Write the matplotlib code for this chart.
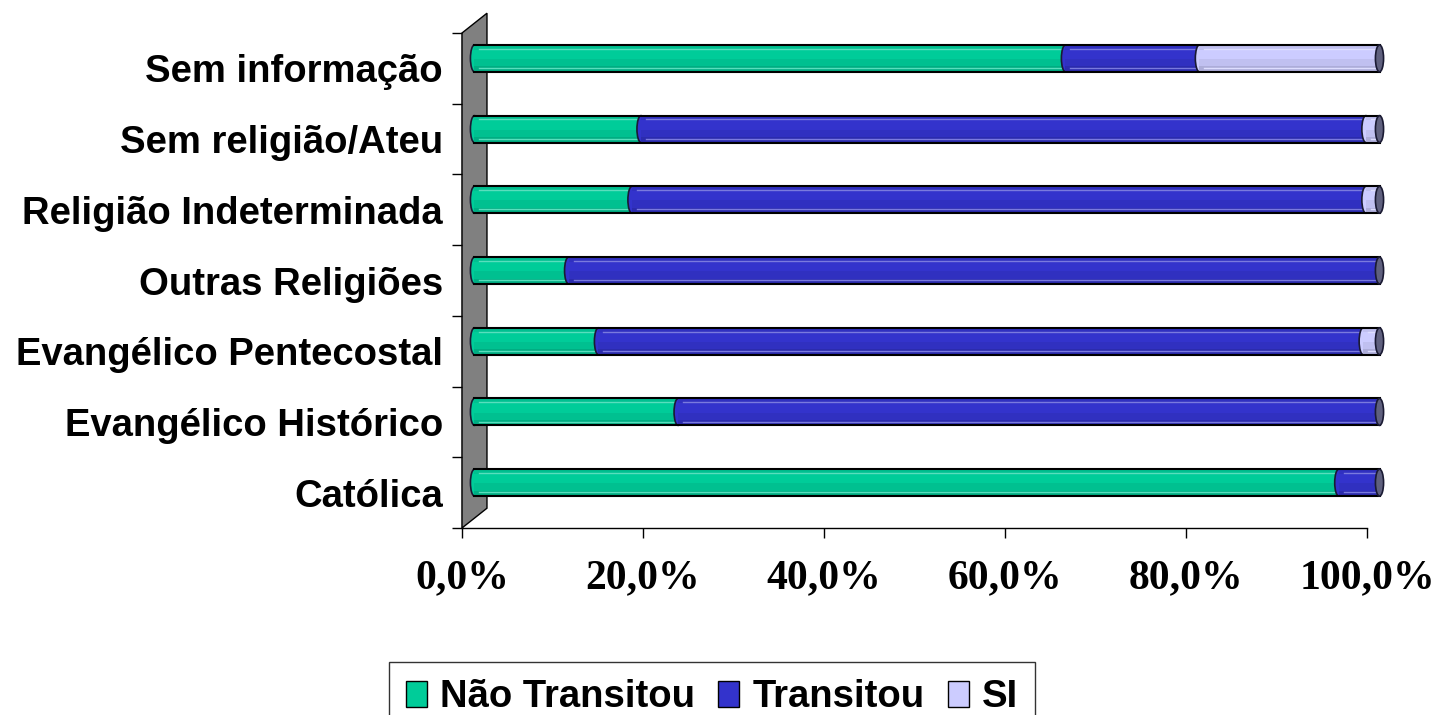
import matplotlib.pyplot as plt
import matplotlib.patches as mpatches
import matplotlib.transforms as mtransforms
import numpy as np

categories = ['Católica', 'Evangélico Histórico', 'Evangélico Pentecostal',
              'Outras Religiões', 'Religião Indeterminada', 'Sem religião/Ateu',
              'Sem informação']
nao_transitou = [95.5, 22.5, 13.7, 10.4, 17.4, 18.4, 65.3]
transitou = [4.5, 77.5, 84.5, 89.6, 81.1, 80.1, 14.8]
si = [0.0, 0.0, 1.8, 0.0, 1.5, 1.5, 19.9]
series_names = ['Não Transitou', 'Transitou', 'SI']
series_colors = ['#00CC99', '#3333CC', '#CCCCFF']
xticks = [0, 20, 40, 60, 80, 100]
xtick_labels = ['0,0%', '20,0%', '40,0%', '60,0%', '80,0%', '100,0%']


def mix(c, other, t):
    a = np.array(plt.matplotlib.colors.to_rgb(c))
    b = np.array(plt.matplotlib.colors.to_rgb(other))
    return tuple(a * (1 - t) + b * t)


fig = plt.figure(figsize=(14.39, 7.15), dpi=100)
ax = fig.add_axes([462 / 1439, 1 - 528 / 715, 905 / 1439, 495 / 715])
ax.set_xlim(0, 100)
ax.set_ylim(-0.5, 6.5)

# bars sit half way into the 3d depth
trans = ax.transData + mtransforms.ScaledTranslation(0.125, 0.10, fig.dpi_scale_trans)

# grey back wall
wall = mpatches.Polygon([(0, -0.5), (0, 6.5), (2.76, 6.78), (2.76, -0.22)],
                        closed=True, facecolor='#808080', edgecolor='black',
                        lw=1, clip_on=False, zorder=1)
ax.add_patch(wall)

h = 0.38
y = np.arange(len(categories))
series = [nao_transitou, transitou, si]
cap_w = 0.9
left = np.zeros(len(categories))
for k, (vals, col) in enumerate(zip(series, series_colors)):
    vals = np.array(vals)
    for i in range(len(categories)):
        if vals[i] <= 0:
            continue
        ell = mpatches.Ellipse((left[i], y[i]), cap_w, h, facecolor=col,
                               edgecolor='#1a1a33', lw=1.2, transform=trans,
                               zorder=3 + 2 * k, clip_on=False)
        ax.add_patch(ell)
    z = 4 + 2 * k
    ax.barh(y, vals, left=left, height=h, color=mix(col, 'black', 0.06),
            transform=trans, zorder=z, clip_on=False)
    ax.barh(y + h * 0.15, vals, left=left, height=h * 0.35,
            color=col, transform=trans, zorder=z, clip_on=False)
    ax.barh(y - h * 0.4, vals, left=left, height=h * 0.2,
            color=mix(col, 'black', 0.15), transform=trans, zorder=z, clip_on=False)
    for i in range(len(categories)):
        if vals[i] <= 0:
            continue
        x0 = left[i] + cap_w * 0.6
        x1 = left[i] + vals[i] - cap_w * 0.3
        if x1 > x0:
            ax.plot([x0, x1], [y[i] + h * 0.36] * 2, color=mix(col, 'white', 0.35),
                    lw=1, transform=trans, zorder=z, clip_on=False)
            ax.plot([x0, x1], [y[i] - h * 0.36] * 2, color=mix(col, 'white', 0.35),
                    lw=1, transform=trans, zorder=z, clip_on=False)
    left = left + vals

for i in range(len(categories)):
    ax.plot([0, 100], [y[i] + h / 2] * 2, color='black', lw=1.5,
            transform=trans, zorder=10, clip_on=False)
    ax.plot([0, 100], [y[i] - h / 2] * 2, color='black', lw=1.5,
            transform=trans, zorder=10, clip_on=False)
    cap = mpatches.Ellipse((100, y[i]), cap_w, h, facecolor='#5F607E',
                           edgecolor='#1a1a33', lw=1.2, transform=trans,
                           zorder=11, clip_on=False)
    ax.add_patch(cap)

for s in ['top', 'right']:
    ax.spines[s].set_visible(False)
for s in ['left', 'bottom']:
    ax.spines[s].set_color('black')
    ax.spines[s].set_linewidth(1)
    ax.spines[s].set_zorder(0.5)

ax.set_yticks(np.arange(-0.5, 7, 1))
ax.set_yticklabels([])
ax.set_yticks(y, minor=True)
ax.set_yticklabels(categories, minor=True, fontsize=27.5, fontweight='bold',
                   family='Liberation Sans')
ax.tick_params(axis='y', which='major', length=7.2, width=1, direction='out')
ax.tick_params(axis='y', which='minor', length=0, pad=13.7)

ax.set_xticks(xticks)
ax.set_xticklabels(xtick_labels, fontsize=30, fontweight='bold',
                   family='Liberation Serif')
ax.tick_params(axis='x', length=7.2, width=1, direction='out', pad=15)

handles = [mpatches.Patch(facecolor=c, edgecolor='black', lw=1) for c in series_colors]
leg = fig.legend(handles, series_names, loc='upper center',
                 bbox_to_anchor=(712 / 1439, 1 - 662 / 715), ncol=3,
                 prop={'family': 'Liberation Sans', 'weight': 'bold', 'size': 27.5},
                 frameon=True, fancybox=False, edgecolor='black',
                 handlelength=0.55, handleheight=0.65, handletextpad=0.35,
                 columnspacing=0.6, borderpad=0.45, borderaxespad=0)
leg.get_frame().set_linewidth(1)

fig.savefig('out.png', dpi=100)
